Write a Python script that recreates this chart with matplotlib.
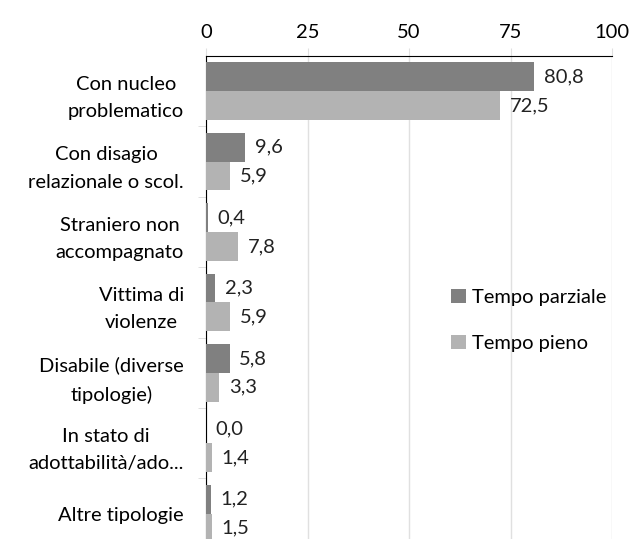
import matplotlib
matplotlib.use("Agg")
from matplotlib import pyplot as plt
import numpy as np

plt.rcParams["font.family"] = ["Lato", "DejaVu Sans"]

# data
categories = [
    "Con nucleo\nproblematico",
    "Con disagio\nrelazionale o scol.",
    "Straniero non\naccompagnato",
    "Vittima di\nviolenze",
    "Disabile (diverse\ntipologie)",
    "In stato di\nadottabilità/ado...",
    "Altre tipologie",
]
tempo_parziale = [80.8, 9.6, 0.4, 2.3, 5.8, 0.0, 1.2]
tempo_pieno = [72.5, 5.9, 7.8, 5.9, 3.3, 1.4, 1.5]
ticks = [0, 25, 50, 75, 100]

dark = "#808080"
light = "#b3b3b3"
fs = 14.5

fig = plt.figure(figsize=(6.37, 5.39), dpi=100)
ax = fig.add_axes([206 / 637, 0, (612 - 206) / 637, (539 - 56) / 539])

y = np.arange(len(categories))
h = 0.41
ax.barh(y - h / 2, tempo_parziale, height=h, color=dark, label="Tempo parziale", zorder=3)
ax.barh(y + h / 2, tempo_pieno, height=h, color=light, label="Tempo pieno", zorder=3)

# value labels
for i in range(len(categories)):
    ax.text(tempo_parziale[i] + 2.4, y[i] - h / 2, f"{tempo_parziale[i]:.1f}".replace(".", ","),
            va="center", ha="left", fontsize=fs, color="#222222")
    ax.text(tempo_pieno[i] + 2.4, y[i] + h / 2, f"{tempo_pieno[i]:.1f}".replace(".", ","),
            va="center", ha="left", fontsize=fs, color="#222222")

ax.set_xlim(0, 100)
ax.set_ylim(6.36, -0.5)
ax.xaxis.tick_top()
ax.set_xticks(ticks)
ax.set_xticklabels([str(t) for t in ticks], fontsize=fs)
ax.tick_params(axis="x", length=6, color="#e0e0e0", pad=5)
ax.grid(axis="x", color="#e0e0e0", linewidth=1, zorder=0)

ax.set_yticks(y)
ax.set_yticklabels(categories, fontsize=fs, multialignment="center", linespacing=1.75)
ax.tick_params(axis="y", length=0, pad=16)
ax.set_yticks(np.arange(len(categories) - 1) + 0.5, minor=True)
ax.tick_params(axis="y", which="minor", length=6, color="#d9d9d9")

for s in ["right", "bottom"]:
    ax.spines[s].set_visible(False)
ax.spines["top"].set_color("black")
ax.spines["left"].set_color("black")

ax.legend(loc="upper left", bbox_to_anchor=(0.56, 0.555), frameon=False, fontsize=fs,
          handlelength=0.7, handleheight=0.7, handletextpad=0.3, labelspacing=1.45)

fig.savefig("out.png", dpi=100)
